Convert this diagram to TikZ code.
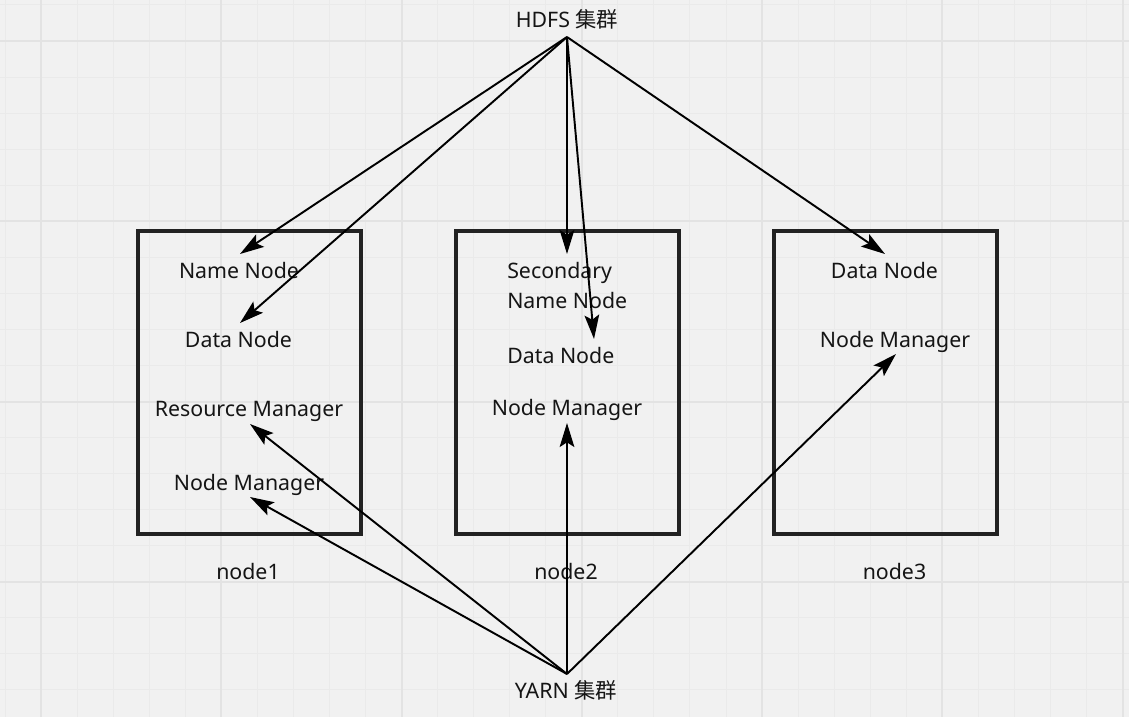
\documentclass[tikz,border=0pt]{standalone}
\usepackage{fontspec}
\setmainfont{Noto Sans}
\newfontfamily\cjk{Noto Sans CJK SC}
\usetikzlibrary{arrows.meta}
\definecolor{bgc}{HTML}{F1F1F1}
\definecolor{gridminor}{HTML}{EAEAEA}
\definecolor{gridmajor}{HTML}{E3E3E3}
\definecolor{ink}{HTML}{151515}
\definecolor{boxc}{HTML}{222222}
\begin{document}
\begin{tikzpicture}[x=0.75pt,y=-0.75pt,
  lbl/.style={inner sep=0pt, anchor=base, font=\fontsize{16}{19}\selectfont, text=ink},
  lbll/.style={lbl, anchor=base west},
  machine/.style={draw=boxc, line width=2.6pt, minimum width=167.25pt, minimum height=227.25pt, inner sep=0pt},
  link/.style={draw=black, line width=1.45pt, -{Stealth[length=18pt,width=11pt,inset=3.5pt]}},
  gminor/.style={draw=gridminor, line width=0.75pt},
  gmajor/.style={draw=gridmajor, line width=1.5pt}]
% background and grid
\fill[bgc] (0,0) rectangle (1129,717);
\useasboundingbox (0,0) rectangle (1129,717);
\foreach \i in {0,...,31} {
  \pgfmathsetmacro{\gx}{5+36.05*\i}
  \draw[gminor] (\gx,0) -- (\gx,717);
}
\foreach \i in {0,...,19} {
  \pgfmathsetmacro{\gy}{5+36.05*\i}
  \draw[gminor] (0,\gy) -- (1129,\gy);
}
\foreach \i in {0,...,6} {
  \pgfmathsetmacro{\gx}{41.05+180.25*\i}
  \draw[gmajor] (\gx,0) -- (\gx,717);
}
\foreach \i in {0,...,3} {
  \pgfmathsetmacro{\gy}{41.05+180.25*\i}
  \draw[gmajor] (0,\gy) -- (1129,\gy);
}
% machine boxes
\node[machine] (box1) at (249.5,382.5) {};
\node[machine] (box2) at (567.5,382.5) {};
\node[machine] (box3) at (885.5,382.5) {};
% cluster labels
\node[lbl] (hdfs) at (567,28) {HDFS {\cjk 集群}};
\node[lbl] (yarn) at (566,698) {YARN {\cjk 集群}};
% machine names
\node[lbl] (n1) at (248,579) {node1};
\node[lbl] (n2) at (566,579) {node2};
\node[lbl] (n3) at (894.5,579) {node3};
% box 1
\node[lbl] (nn1) at (239,278) {Name Node};
\node[lbl] (dn1) at (238.5,347) {Data Node};
\node[lbl] (rm1) at (249,416) {Resource Manager};
\node[lbl] (nm1) at (249,490) {Node Manager};
% box 2
\node[lbll] (snn) at (507,278) {Secondary};
\node[lbll] (snn2) at (507,308) {Name Node};
\node[lbll] (dn2) at (507,363) {Data Node};
\node[lbl] (nm2) at (567,415) {Node Manager};
% box 3
\node[lbl] (dn3) at (884.5,278) {Data Node};
\node[lbl] (nm3) at (895,347) {Node Manager};
% hubs and arrow tips
\coordinate (hh) at (567,37);
\coordinate (yh) at (567,674);
\coordinate (t-nn1) at (240,254);
\coordinate (t-dn1) at (240,323);
\coordinate (t-snn) at (567,254);
\coordinate (t-dn2) at (594,339);
\coordinate (t-dn3) at (885,254);
\coordinate (t-rm1) at (250,424);
\coordinate (t-nm1) at (250,497);
\coordinate (t-nm2) at (567,423);
\coordinate (t-nm3) at (896,354);
% connectors
\draw[link] (hh) -- (t-nn1);
\draw[link] (hh) -- (t-dn1);
\draw[link] (hh) -- (t-snn);
\draw[link] (hh) -- (t-dn2);
\draw[link] (hh) -- (t-dn3);
\draw[link] (yh) -- (t-rm1);
\draw[link] (yh) -- (t-nm1);
\draw[link] (yh) -- (t-nm2);
\draw[link] (yh) -- (t-nm3);
\end{tikzpicture}
\end{document}
